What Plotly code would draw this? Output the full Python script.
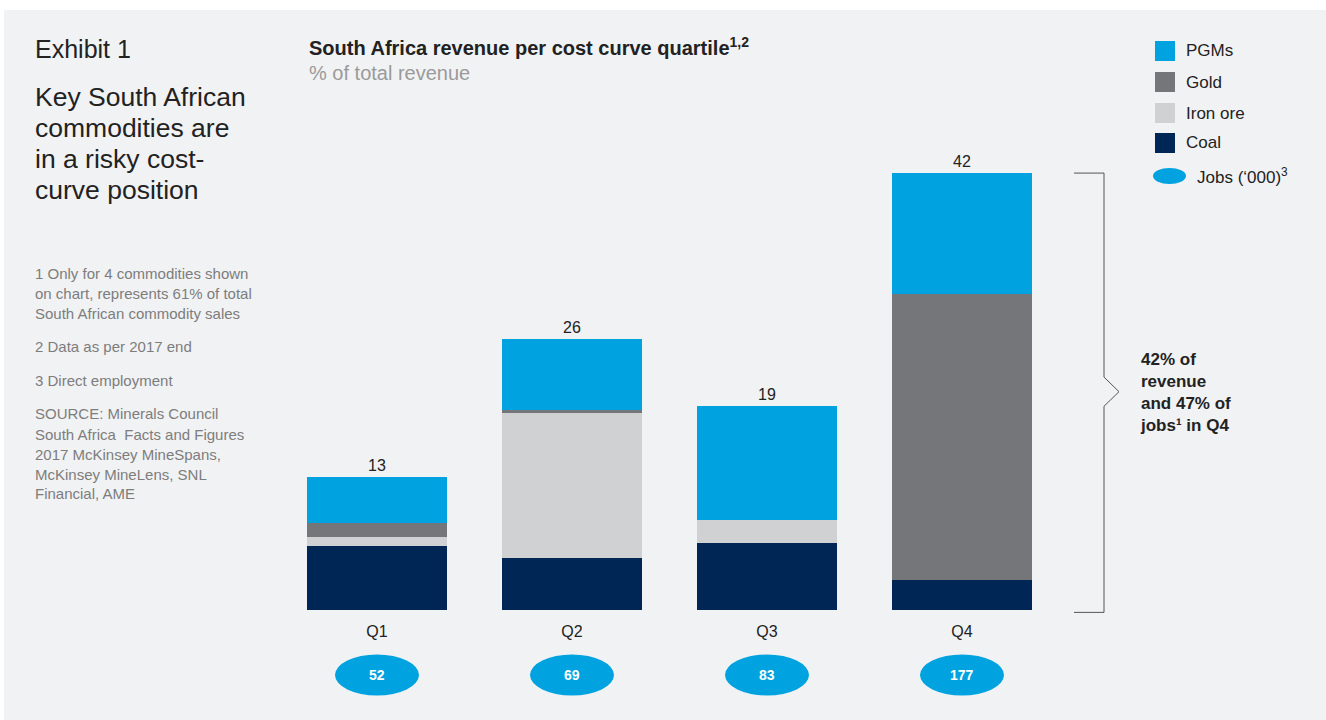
import plotly.graph_objects as go
import numpy as np

# ---------------- data ----------------
quartiles = ["Q1", "Q2", "Q3", "Q4"]
coal = [6.15, 5.0, 6.45, 2.9]
iron_ore = [0.9, 14.0, 2.2, 0.0]
gold = [1.3, 0.2, 0.0, 27.5]
pgms = [4.5, 6.9, 11.0, 11.6]
total_labels = [13, 26, 19, 42]
jobs = [52, 69, 83, 177]

series_names = ["PGMs", "Gold", "Iron ore", "Coal"]
series_colors = ["#00a3e0", "#75767a", "#d0d1d3", "#002656"]

W, H = 1326, 720
BG = "#f1f2f4"
TXT = "#222222"
FONT = "Liberation Sans, Arial, Helvetica, sans-serif"

def px_x(p):
    return p / W

def px_y(p):
    return 1 - p / H

fig = go.Figure()

stack = [("Coal", coal), ("Iron ore", iron_ore), ("Gold", gold), ("PGMs", pgms)]
color_map = dict(zip(series_names, series_colors))
for name, vals in stack:
    fig.add_trace(go.Bar(
        x=quartiles, y=vals, name=name,
        marker=dict(color=color_map[name], line=dict(width=0)),
        width=0.718, showlegend=False, hoverinfo="skip",
    ))

totals = np.sum([coal, iron_ore, gold, pgms], axis=0)
annotations = []
for q, t, lab in zip(quartiles, totals, total_labels):
    annotations.append(dict(x=q, y=float(t), xref="x", yref="y", text=str(lab),
                            showarrow=False, yanchor="bottom", yshift=1,
                            font=dict(size=16, color=TXT, family=FONT)))

shapes = []
# panel background
shapes.append(dict(type="rect", xref="paper", yref="paper", x0=px_x(4), x1=1, y0=0, y1=px_y(10),
                   fillcolor=BG, line=dict(width=0), layer="below"))

# jobs ellipses
half_w = 42 / 195
for i, (q, j) in enumerate(zip(quartiles, jobs)):
    shapes.append(dict(type="circle", xref="x", yref="paper",
                       x0=i - half_w, x1=i + half_w,
                       y0=px_y(675 + 20.5), y1=px_y(675 - 20.5),
                       fillcolor="#00a3e0", line=dict(width=0)))
    annotations.append(dict(x=q, y=px_y(675), xref="x", yref="paper", text="<b>%d</b>" % j,
                            showarrow=False, yanchor="middle",
                            font=dict(size=14, color="white",
                                      family="Liberation Sans Narrow, Arial Narrow, " + FONT)))

# bracket for Q4
q4_total = float(totals[3])
mid = q4_total / 2
dy = 1.4
bx0, bx1, btip = px_x(1074), px_x(1104), px_x(1119)
path = (f"M {bx0},{q4_total} L {bx1},{q4_total} L {bx1},{mid + dy} L {btip},{mid} "
        f"L {bx1},{mid - dy} L {bx1},-0.2 L {bx0},-0.2")
shapes.append(dict(type="path", xref="paper", yref="y", path=path,
                   line=dict(color="#555555", width=1)))
annotations.append(dict(x=px_x(1138), y=px_y(393), xref="paper", yref="paper",
                        text="<b>42% of<br>revenue<br>and 47% of<br>jobs¹ in Q4</b>",
                        showarrow=False, xanchor="left", yanchor="middle", align="left",
                        font=dict(size=17, color=TXT, family=FONT)))

# legend (manual)
leg_rows = [51, 82, 113, 143]
for name, col, yc in zip(series_names, series_colors, leg_rows):
    shapes.append(dict(type="rect", xref="paper", yref="paper",
                       x0=px_x(1155), x1=px_x(1175), y0=px_y(yc + 10), y1=px_y(yc - 10),
                       fillcolor=col, line=dict(width=0)))
    annotations.append(dict(x=px_x(1184), y=px_y(yc), xref="paper", yref="paper", text=name,
                            showarrow=False, xanchor="left", yanchor="middle",
                            font=dict(size=17, color=TXT, family=FONT)))
shapes.append(dict(type="circle", xref="paper", yref="paper",
                   x0=px_x(1153), x1=px_x(1186), y0=px_y(184), y1=px_y(168),
                   fillcolor="#00a3e0", line=dict(width=0)))
annotations.append(dict(x=px_x(1195), y=px_y(176), xref="paper", yref="paper",
                        text="Jobs (‘000)<sup>3</sup>",
                        showarrow=False, xanchor="left", yanchor="middle",
                        font=dict(size=17, color=TXT, family=FONT)))

# chart title
annotations.append(dict(x=px_x(307), y=px_y(47), xref="paper", yref="paper",
                        text="<b>South Africa revenue per cost curve quartile<sup>1,2</sup></b>",
                        showarrow=False, xanchor="left", yanchor="middle",
                        font=dict(size=20, color=TXT, family=FONT)))
annotations.append(dict(x=px_x(307), y=px_y(73), xref="paper", yref="paper",
                        text="% of total revenue",
                        showarrow=False, xanchor="left", yanchor="middle",
                        font=dict(size=20, color="#9a9a9a", family=FONT)))

# left panel
annotations.append(dict(x=px_x(33), y=px_y(49), xref="paper", yref="paper", text="Exhibit 1",
                        showarrow=False, xanchor="left", yanchor="middle",
                        font=dict(size=25, color=TXT, family=FONT)))
for line, yc in zip(["Key South African", "commodities are", "in a risky cost-", "curve position"],
                    [97, 128, 159, 190]):
    annotations.append(dict(x=px_x(33), y=px_y(yc), xref="paper", yref="paper", text=line,
                            showarrow=False, xanchor="left", yanchor="middle",
                            font=dict(size=26.5, color=TXT, family=FONT)))

foot_lines = ["1 Only for 4 commodities shown", "on chart, represents 61% of total",
              "South African commodity sales", "2 Data as per 2017 end", "3 Direct employment",
              "SOURCE: Minerals Council", "South Africa  Facts and Figures",
              "2017 McKinsey MineSpans,", "McKinsey MineLens, SNL", "Financial, AME"]
foot_y = [273, 293, 313, 346, 380, 414, 434, 454, 474, 493]
for line, yc in zip(foot_lines, foot_y):
    annotations.append(dict(x=px_x(33), y=px_y(yc), xref="paper", yref="paper", text=line,
                            showarrow=False, xanchor="left", yanchor="middle",
                            font=dict(size=15, color="#7d7d7d", family=FONT)))

x_lo = (250 - 377) / 195
x_hi = (1100 - 377) / 195
y_lo = -0.5
px_per_unit = 10.41
fig.update_layout(
    width=W, height=H,
    margin=dict(l=0, r=0, t=0, b=0),
    paper_bgcolor="white", plot_bgcolor="rgba(0,0,0,0)",
    barmode="stack", bargap=0.28,
    font=dict(family=FONT, color=TXT),
    xaxis=dict(domain=[250 / W, 1100 / W], range=[x_lo, x_hi], type="category",
               showgrid=False, zeroline=False, showline=False,
               ticks="outside", ticklen=1, tickcolor="rgba(0,0,0,0)",
               tickfont=dict(size=16, color=TXT, family=FONT)),
    yaxis=dict(domain=[(H - (610.3 - y_lo * px_per_unit)) / H, (H - (610.3 - 45 * px_per_unit)) / H],
               range=[y_lo, 45], visible=False, showgrid=False, zeroline=False),
    shapes=shapes, annotations=annotations,
)

fig.write_html("out.html")
